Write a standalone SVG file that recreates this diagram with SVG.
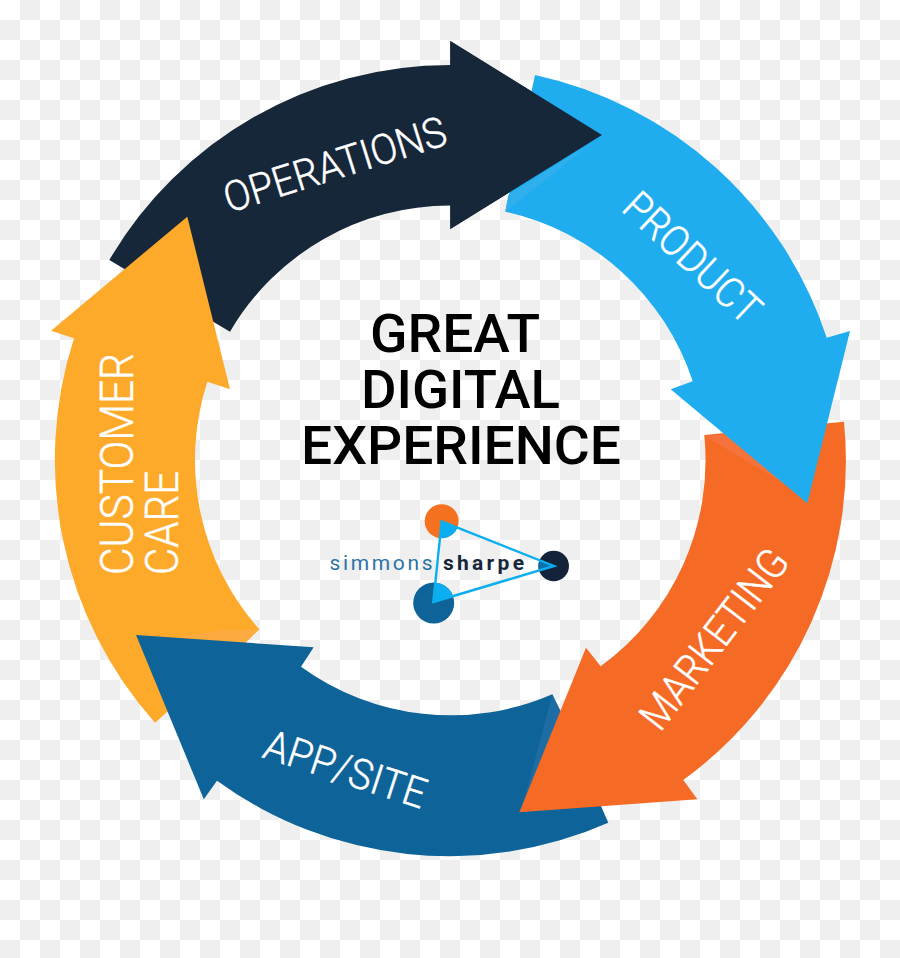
<svg xmlns="http://www.w3.org/2000/svg" width="900" height="958" viewBox="0 0 900 958">
<style>
.lbl{font-family:Roboto,"Liberation Sans",sans-serif;font-size:42px;font-weight:300;fill:#fff;stroke:#fff;stroke-width:.45px}
.ttl{font-family:Roboto,"Liberation Sans",sans-serif;font-size:54px;font-weight:500;fill:#000}
.ops{fill:#17273a}.prd{fill:#1fadf0}.mkt{fill:#f56b25}.app{fill:#0e6399}.car{fill:#fdaa2b}
.tri{fill:none;stroke:#0baeef;stroke-width:2.4}
</style>
<defs>
<pattern id="chk" width="40" height="40" patternUnits="userSpaceOnUse">
<rect width="40" height="40" fill="#fff"/>
<rect x="20" y="0" width="20" height="20" fill="#efefef"/>
<rect x="0" y="20" width="20" height="20" fill="#efefef"/>
</pattern>
<clipPath id="cO"><circle cx="441.7" cy="521.3" r="17"/></clipPath>
<clipPath id="cD"><circle cx="553.7" cy="566" r="15.3"/></clipPath>
<clipPath id="cB"><circle cx="433.7" cy="603" r="20.5"/></clipPath>
</defs>
<rect id="background" width="900" height="958" fill="url(#chk)"/>
<g id="node-operations">
<path class="ops" d="M109.3 260A395 395 0 0 1 450.3 65L450.3 41L602 135L450.3 229L450.3 205.5A255 255 0 0 0 230 331.7Z"/>
<text class="lbl" transform="translate(229 213) rotate(-17.4)" textLength="231" lengthAdjust="spacingAndGlyphs">OPERATIONS</text>
</g>
<g id="node-customer-care">
<path class="car" d="M155 722.7A395 395 0 0 1 74 338.3L51 330.7L187.3 216.7L230 389.3L207.3 381.7A255 255 0 0 0 259.3 629.3Z"/>
<path fill="#fbab3f" d="M259.3 629.3L245.7 642.7L175 637L220 630.5Z"/>
<text class="lbl" style="font-size:46px" transform="translate(133 575) rotate(-90)" textLength="222" lengthAdjust="spacingAndGlyphs">CUSTOMER</text>
<text class="lbl" style="font-size:46px" transform="translate(178 575) rotate(-90)" textLength="104" lengthAdjust="spacingAndGlyphs">CARE</text>
</g>
<g id="node-app-site">
<path class="app" d="M608.3 822.7A395 395 0 0 1 217 780.7L203.8 799.3L136 635L313.7 647.3L301 666.7A255 255 0 0 0 552.3 694.3Z"/>
<path fill="#1d6ca3" d="M552.3 694.3L561 711.7L523.3 803.3Z"/>
<text class="lbl" transform="translate(261 757) rotate(18)" textLength="168" lengthAdjust="spacingAndGlyphs">APP/SITE</text>
</g>
<g id="node-marketing">
<path class="mkt" d="M844 421.7A395 395 0 0 1 683.3 780L697.3 799.3L519.3 812.3L586 647.7L600.7 666.3A255 255 0 0 0 704.3 435Z"/>
<path fill="#f5723a" d="M704.3 435.7L726.7 434L786.7 485Z"/>
<text class="lbl" transform="translate(660 733) rotate(-52.5)" textLength="215" lengthAdjust="spacingAndGlyphs">MARKETING</text>
</g>
<g id="node-product">
<path class="prd" d="M535 75A395 395 0 0 1 826.7 337.7L850 331L807.3 503.3L670.7 389.3L692.7 381.3A255 255 0 0 0 505.3 211.7Z"/>
<path fill="#2fb0ed" d="M505.3 211.7L593.3 141.7L508.3 195Z"/>
<text class="lbl" transform="translate(620 210) rotate(43)" textLength="171" lengthAdjust="spacingAndGlyphs">PRODUCT</text>
</g>
<polygon id="node-operations-head" class="ops" points="450.3,41 602,135 450.3,229"/>
<g id="node-title">
<text class="ttl" x="370" y="352" textLength="170" lengthAdjust="spacingAndGlyphs">GREAT</text>
<text class="ttl" x="361" y="408" textLength="199" lengthAdjust="spacingAndGlyphs">DIGITAL</text>
<text class="ttl" x="301" y="464" textLength="320" lengthAdjust="spacingAndGlyphs">EXPERIENCE</text>
</g>
<g id="node-logo">
<circle cx="441.7" cy="521.3" r="17" fill="#f47120"/>
<circle cx="553.7" cy="566" r="15.3" fill="#13243a"/>
<circle cx="433.7" cy="603" r="20.5" fill="#0e6399"/>
<polygon points="441.7,521.3 554,566 433.3,602" fill="#0baeef" clip-path="url(#cO)"/>
<polygon points="441.7,521.3 554,566 433.3,602" fill="#0e6fab" clip-path="url(#cD)"/>
<polygon points="441.7,521.3 554,566 433.3,602" fill="#0baeef" clip-path="url(#cB)"/>
<polygon class="tri" points="441.7,521.3 554,566 433.3,602"/>
<text x="329.5" y="570" font-family="Roboto,'Liberation Sans',sans-serif" font-size="21" fill="#2c73a5" textLength="103">simmons</text>
<text x="443" y="570" font-family="Roboto,'Liberation Sans',sans-serif" font-size="21" font-weight="700" fill="#17273a" textLength="81">sharpe</text>
</g>
</svg>
